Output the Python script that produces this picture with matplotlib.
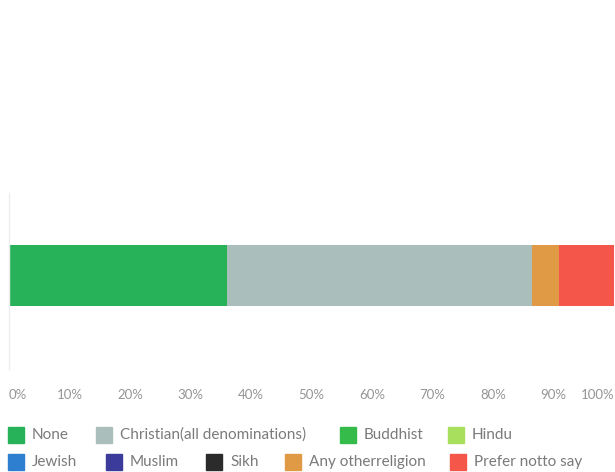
import matplotlib
matplotlib.use("Agg")
import matplotlib.pyplot as plt
from matplotlib.patches import Rectangle

categories = ["None", "Christian(all denominations)", "Buddhist", "Hindu",
              "Jewish", "Muslim", "Sikh", "Any otherreligion", "Prefer notto say"]
values = [36.0, 50.4, 0.0, 0.0, 0.0, 0.0, 0.0, 4.5, 9.1]
colors = ["#27b25a", "#aabfbb", "#35bb4a", "#a8e05e", "#2f7fd0",
          "#3b3b9c", "#2b2b2b", "#e09a45", "#f5564a"]
tick_values = [0, 10, 20, 30, 40, 50, 60, 70, 80, 90, 100]
tick_labels = [f"{t}%" for t in tick_values]

W, H = 615, 472
fig = plt.figure(figsize=(W / 100, H / 100), dpi=100)
plt.rcParams['font.family'] = ['Lato', 'DejaVu Sans']

ax = fig.add_axes([9 / W, (H - 370) / H, (614 - 9) / W, 177 / H])
left = 0
for v, c in zip(values, colors):
    if v > 0:
        ax.barh(0.534, v, left=left, height=0.345, color=c, edgecolor='none')
    left += v
ax.set_xlim(0, 100)
ax.set_ylim(0, 1)
for s in ["top", "right", "bottom"]:
    ax.spines[s].set_visible(False)
ax.spines["left"].set_color("#eeeeee")
ax.spines["left"].set_linewidth(1)
ax.set_yticks([])
ax.set_xticks(tick_values)
ax.set_xticklabels(tick_labels)
ax.tick_params(axis='x', length=0, pad=14, labelsize=9.5, labelcolor="#959595")
lbls = ax.get_xticklabels()
lbls[0].set_ha('left')
lbls[-1].set_ha('right')

# legend drawn as flowing rows
rows = [[0, 1, 2, 3], [4, 5, 6, 7, 8]]
row_y = [435, 462]
row_x = [[8, 96, 340, 448], [8, 106, 206, 285, 450]]
for r, idxs in enumerate(rows):
    for j, i in enumerate(idxs):
        x = row_x[r][j]
        y = row_y[r]
        fig.patches.append(Rectangle((x / W, (H - y - 8) / H), 16 / W, 16 / H,
                                     transform=fig.transFigure,
                                     color=colors[i], figure=fig))
        fig.text((x + 24) / W, (H - y) / H, categories[i], fontsize=11,
                 color="#7a7a7a", va='center', ha='left')

fig.savefig("out.png", dpi=100, facecolor="white")
